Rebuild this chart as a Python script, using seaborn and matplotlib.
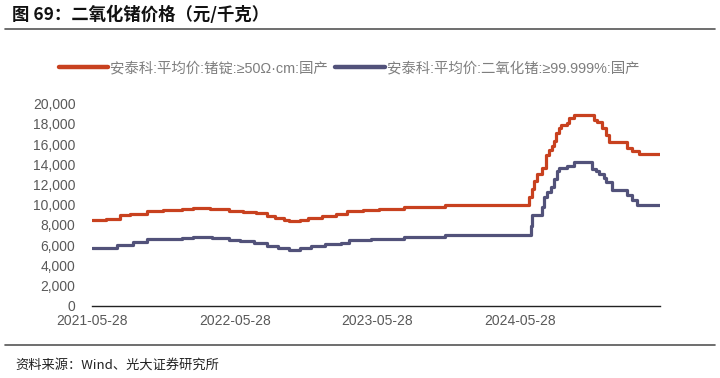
import matplotlib
matplotlib.use("Agg")
import matplotlib.pyplot as plt
import matplotlib.dates as mdates
from matplotlib.lines import Line2D
import seaborn as sns
import pandas as pd

# ---------------- data ----------------
ingot_dates = ["2021-05-28", "2021-07-02", "2021-08-06", "2021-09-03", "2021-10-15", "2021-11-26",
               "2022-01-14", "2022-02-11", "2022-03-25", "2022-05-13", "2022-06-17", "2022-07-22",
               "2022-08-19", "2022-09-09", "2022-09-30", "2022-10-14", "2022-11-11", "2022-12-02",
               "2023-01-06", "2023-02-10", "2023-03-10", "2023-04-21", "2023-06-02", "2023-08-04",
               "2023-11-17", "2024-06-19", "2024-06-28", "2024-07-02", "2024-07-10", "2024-07-23",
               "2024-08-01", "2024-08-09", "2024-08-18", "2024-08-22", "2024-08-26", "2024-09-04",
               "2024-09-08", "2024-09-25", "2024-09-29", "2024-10-12", "2024-12-02", "2024-12-11",
               "2024-12-23", "2025-01-01", "2025-01-10", "2025-01-14", "2025-02-25", "2025-03-10",
               "2025-03-27", "2025-05-21"]
ingot_values = [8500, 8600, 9000, 9100, 9400, 9500,
                9600, 9700, 9600, 9400, 9300, 9200,
                8900, 8700, 8500, 8400, 8500, 8700,
                8900, 9100, 9400, 9500, 9600, 9800,
                10000, 10800, 11600, 12300, 13000, 13600,
                14900, 15400, 15800, 16300, 17100, 17600,
                17900, 18100, 18600, 18900, 18400, 18200,
                17600, 16900, 16200, 16200, 15600, 15300,
                15000, 15000]

geo2_dates = ["2021-05-28", "2021-07-30", "2021-09-10", "2021-10-15", "2022-01-14", "2022-02-11",
              "2022-04-01", "2022-05-13", "2022-06-10", "2022-07-15", "2022-08-19", "2022-09-16",
              "2022-10-14", "2022-11-11", "2022-12-09", "2023-01-13", "2023-02-24", "2023-03-17",
              "2023-05-12", "2023-08-04", "2023-11-17", "2024-06-23", "2024-06-28", "2024-07-06",
              "2024-07-23", "2024-07-28", "2024-08-05", "2024-08-14", "2024-08-22", "2024-08-31",
              "2024-09-04", "2024-09-25", "2024-10-12", "2024-11-28", "2024-12-07", "2024-12-15",
              "2024-12-28", "2025-01-01", "2025-01-10", "2025-01-18", "2025-02-17", "2025-02-25",
              "2025-03-10", "2025-03-23", "2025-05-21"]
geo2_values = [5700, 6000, 6300, 6600, 6700, 6800,
               6700, 6500, 6400, 6200, 5900, 5700,
               5500, 5700, 5900, 6100, 6200, 6500,
               6600, 6800, 7000, 7900, 9000, 9000,
               9800, 10800, 11300, 11700, 12500, 13300,
               13600, 13800, 14200, 13500, 13300, 13000,
               12600, 12200, 12200, 11500, 11500, 11000,
               10500, 10000, 10000]

series_names = ["安泰科:平均价:锗锭:≥50Ω·cm:国产", "安泰科:平均价:二氧化锗:≥99.999%:国产"]
tick_dates = ["2021-05-28", "2022-05-28", "2023-05-28", "2024-05-28"]
y_ticks = [0, 2000, 4000, 6000, 8000, 10000, 12000, 14000, 16000, 18000, 20000]

title = "图 69：二氧化锗价格（元/千克）"
source = "资料来源：Wind、光大证券研究所"

colors = ["#C8411F", "#52527A"]

# ---------------- plot ----------------
sns.set_theme(style="white")
plt.rcParams["font.family"] = ["Liberation Sans", "Noto Sans CJK SC", "DejaVu Sans"]

fig = plt.figure(figsize=(7.2, 3.78), dpi=100)
ax = fig.add_axes([0.128, 0.191, 0.789, 0.535])

df1 = pd.DataFrame({"date": pd.to_datetime(ingot_dates), "value": ingot_values})
df2 = pd.DataFrame({"date": pd.to_datetime(geo2_dates), "value": geo2_values})

sns.lineplot(data=df1, x="date", y="value", ax=ax, color=colors[0], linewidth=2.3,
             drawstyle="steps-post", estimator=None)
sns.lineplot(data=df2, x="date", y="value", ax=ax, color=colors[1], linewidth=2.3,
             drawstyle="steps-post", estimator=None)

ax.set_ylim(0, 20000)
ax.set_xlim(pd.Timestamp("2021-05-28"), pd.Timestamp("2025-05-21"))
ax.set_yticks(y_ticks)
ax.set_yticklabels([f"{v:,}" for v in y_ticks])
ax.set_xticks(pd.to_datetime(tick_dates))
ax.xaxis.set_major_formatter(mdates.DateFormatter("%Y-%m-%d"))
ax.set_xlabel("")
ax.set_ylabel("")

for s in ["left", "right", "top"]:
    ax.spines[s].set_visible(False)
ax.spines["bottom"].set_color("#222222")
ax.spines["bottom"].set_linewidth(1.0)
ax.tick_params(axis="x", direction="in", length=4, width=1, color="#222222",
               labelsize=10, labelcolor="#595959", pad=6)
ax.tick_params(axis="y", length=0, labelsize=10, labelcolor="#595959", pad=12)
ax.grid(False)

handles = [Line2D([0], [0], color=c, linewidth=3.2) for c in colors]
leg = fig.legend(handles, series_names, loc="center", bbox_to_anchor=(0.485, 0.82), ncol=2,
                 frameon=False, fontsize=10.4, handlelength=3.4, handletextpad=0.15,
                 columnspacing=0.5)
for t in leg.get_texts():
    t.set_color("#7F7F7F")

fig.text(0.017, 0.962, title, fontsize=12.5, fontweight="bold", color="#111111",
         va="center", ha="left", family=["Noto Sans CJK SC", "DejaVu Sans"])
fig.add_artist(Line2D([0.007, 0.993], [0.923, 0.923], color="#555555", linewidth=1.2))
fig.add_artist(Line2D([0.007, 0.993], [0.087, 0.087], color="#555555", linewidth=1.2))
fig.text(0.021, 0.034, source, fontsize=9.5, color="#222222", va="center", ha="left",
         family=["Noto Sans CJK SC", "DejaVu Sans"])

fig.savefig("out.png", dpi=100)
